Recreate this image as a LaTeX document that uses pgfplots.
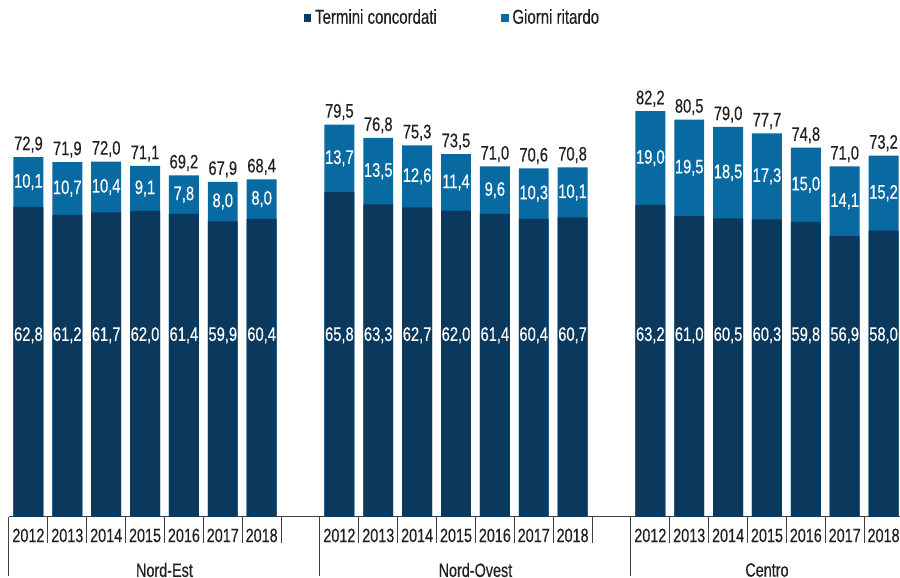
\documentclass[border=0pt]{standalone}
\usepackage{fontspec}
\setmainfont{Liberation Sans}[FakeStretch=0.75,FakeBold=0.4]
\usepackage{pgfplots}
\usepackage{pgfplotstable}
\pgfplotsset{compat=1.18}
\definecolor{cdark}{RGB}{11,57,94}
\definecolor{clight}{RGB}{9,106,161}
\definecolor{ctext}{RGB}{35,31,32}
\pgfplotstableread{
x base delay total
0 62.8 10.1 72.9
1 61.2 10.7 71.9
2 61.7 10.4 72.0
3 62.0 9.1 71.1
4 61.4 7.8 69.2
5 59.9 8.0 67.9
6 60.4 8.0 68.4
8 65.8 13.7 79.5
9 63.3 13.5 76.8
10 62.7 12.6 75.3
11 62.0 11.4 73.5
12 61.4 9.6 71.0
13 60.4 10.3 70.6
14 60.7 10.1 70.8
16 63.2 19.0 82.2
17 61.0 19.5 80.5
18 60.5 18.5 79.0
19 60.3 17.3 77.7
20 59.8 15.0 74.8
21 56.9 14.1 71.0
22 58.0 15.2 73.2
}\data
\begin{document}
\begin{tikzpicture}[font=\fontsize{9.6}{11}\selectfont, text=ctext]
\begin{axis}[
  scale only axis, width=447pt, height=234.5pt,
  xmin=-0.5, xmax=22.5, ymin=0, ymax=95,
  clip=false,
  axis x line*=bottom, axis y line=none,
  x axis line style={-, black!75, line width=0.5pt},
  xtick={0,1,2,3,4,5,6,8,9,10,11,12,13,14,16,17,18,19,20,21,22},
  xticklabels={2012,2013,2014,2015,2016,2017,2018,2012,2013,2014,2015,2016,2017,2018,2012,2013,2014,2015,2016,2017,2018},
  xticklabel style={yshift=-2.3pt},
  major tick length=0pt,
  minor xtick={0.5,1.5,2.5,3.5,4.5,5.5,6.5,8.5,9.5,10.5,11.5,12.5,13.5,14.5,16.5,17.5,18.5,19.5,20.5,21.5},
  minor tick length=13pt,
  tick align=outside,
  tick style={black!75, line width=0.5pt},
  extra x ticks={-0.5,7.5,15.5},
  extra x tick labels={},
  extra x tick style={major tick length=29.5pt, tick align=outside},
  /pgf/number format/assume math mode=true,
  legend columns=2,
  legend style={draw=none, fill=none, at={(0.497,1.064)}, anchor=center,
    font=\fontsize{10}{12}\selectfont,
    /tikz/every even column/.append style={column sep=30pt}},
]
\addlegendimage{legend image code/.code={\fill[cdark] (0pt,-1.7pt) rectangle (3.4pt,1.7pt);}}
\addlegendentry{Termini concordati}
\addlegendimage{legend image code/.code={\fill[clight] (0pt,-1.7pt) rectangle (3.4pt,1.7pt);}}
\addlegendentry{Giorni ritardo}

\addplot[forget plot, ybar, bar width=0.77, bar shift=0pt, fill=clight, draw=none] table[x=x,y=total]{\data};
\addplot[forget plot, ybar, bar width=0.77, bar shift=0pt, fill=cdark, draw=none] table[x=x,y=base]{\data};

\addplot[forget plot, draw=none, mark=none, point meta=explicit,
  nodes near coords={\pgfmathprintnumber[fixed,fixed zerofill,precision=1,use comma]{\pgfplotspointmeta}},
  every node near coord/.append style={anchor=center, text=white, inner sep=0pt, font=\fontsize{9.8}{12}\selectfont}]
  table[x=x, y expr=36.8, meta=base]{\data};
\addplot[forget plot, draw=none, mark=none, point meta=explicit,
  nodes near coords={\pgfmathprintnumber[fixed,fixed zerofill,precision=1,use comma]{\pgfplotspointmeta}},
  every node near coord/.append style={anchor=center, text=white, inner sep=0pt, font=\fontsize{9.8}{12}\selectfont}]
  table[x=x, y expr=(\thisrow{base}+\thisrow{total})/2, meta=delay]{\data};
\addplot[forget plot, draw=none, mark=none, point meta=explicit,
  nodes near coords={\pgfmathprintnumber[fixed,fixed zerofill,precision=1,use comma]{\pgfplotspointmeta}},
  every node near coord/.append style={anchor=south, text=ctext, inner sep=2pt, font=\fontsize{9.8}{12}\selectfont}]
  table[x=x, y=total, meta=total]{\data};

\node[anchor=center] at (axis cs:3.5,0) [yshift=-26.5pt] {Nord-Est};
\node[anchor=center] at (axis cs:11.5,0) [yshift=-26.5pt] {Nord-Ovest};
\node[anchor=center] at (axis cs:19,0) [yshift=-26.5pt] {Centro};
\coordinate (SW) at (rel axis cs:0,0);
\coordinate (NE) at (rel axis cs:1,1);
\end{axis}
\pgfresetboundingbox
\path[use as bounding box] ([xshift=-4.5pt,yshift=-30.5pt]SW) rectangle ([xshift=-1.5pt,yshift=24pt]NE);
\end{tikzpicture}
\end{document}
